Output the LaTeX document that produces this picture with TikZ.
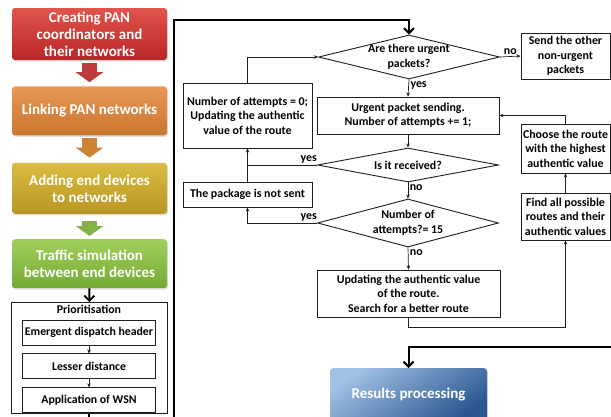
\documentclass[tikz,border=0pt]{standalone}
\usepackage{fontspec}
\setmainfont{Carlito}
\usetikzlibrary{shapes.geometric, arrows.meta, positioning, shadows}
\definecolor{redtop}{RGB}{226, 84, 76}
\definecolor{redbot}{RGB}{184, 38, 38}
\definecolor{orangetop}{RGB}{232, 152, 84}
\definecolor{orangebot}{RGB}{200, 118, 48}
\definecolor{goldtop}{RGB}{218, 188, 66}
\definecolor{goldbot}{RGB}{184, 150, 34}
\definecolor{greentop}{RGB}{160, 206, 92}
\definecolor{greenbot}{RGB}{118, 170, 52}
\definecolor{bluetop}{RGB}{160, 192, 228}
\definecolor{bluebot}{RGB}{44, 88, 146}
\definecolor{linegray}{RGB}{30, 30, 30}

\begin{document}
\begin{tikzpicture}[
    x=1pt, y=-1pt, >={Stealth[length=4pt, width=3.5pt]},
    stage/.style={rectangle, rounded corners=3pt, minimum width=155pt, inner sep=1pt, align=center, text=white, font=\fontsize{15}{17}\selectfont\bfseries, drop shadow={opacity=0.25, shadow xshift=1pt, shadow yshift=-1.5pt}},
    blockarrow/.style={line width=15pt, -{Triangle[length=10pt, width=27pt]}},
    flowbox/.style={rectangle, draw=linegray, line width=0.9pt, fill=white, inner sep=1pt, align=center, font=\fontsize{11.9}{14.5}\selectfont\bfseries},
    decision/.style={diamond, draw=linegray, line width=0.9pt, fill=white, inner sep=0pt, minimum width=181pt},
    subbox/.style={rectangle, draw=linegray, line width=0.9pt, inner sep=1pt, minimum width=133pt, minimum height=25pt, font=\fontsize{11.8}{13}\selectfont\bfseries},
    lbl/.style={font=\fontsize{11.9}{14.5}\selectfont\bfseries, inner sep=1.5pt, align=center},
    line/.style={draw=linegray, ->, line width=0.7pt},
    thickline/.style={draw=black, line width=2pt, -{Straight Barb[length=5pt, width=10pt, line width=2pt]}}
  ]
    \useasboundingbox (0,0) rectangle (611,416);

    % left column: stages of the simulation
    \node (create) [stage, top color=redtop, bottom color=redbot, minimum height=52pt] at (89.5,34) {Creating PAN\\coordinators and\\their networks};
    \node (link) [stage, top color=orangetop, bottom color=orangebot, minimum height=49pt, below=26pt of create] {Linking PAN networks};
    \node (adddev) [stage, top color=goldtop, bottom color=goldbot, minimum height=51pt, below=27pt of link] {Adding end devices\\to networks};
    \node (traffic) [stage, top color=greentop, bottom color=greenbot, minimum height=49pt, below=25pt of adddev] {Traffic simulation\\between end devices};

    \draw[blockarrow, draw=redbot!90, fill=redbot!90, shorten <=3pt, shorten >=4pt] (create) -- (link);
    \draw[blockarrow, draw=orangebot!80!goldtop, fill=orangebot!80!goldtop, shorten <=2pt, shorten >=5pt] (link) -- (adddev);
    \draw[blockarrow, draw=greenbot!90, fill=greenbot!90, shorten <=7pt, shorten >=3pt] (adddev) -- (traffic);

    % prioritisation block
    \node (prio) [rectangle, draw=linegray, line width=0.9pt, minimum width=156pt, minimum height=111pt, anchor=north,
      label={[lbl, anchor=north, yshift=-1pt]north:Prioritisation}] at (89,302) {};
    \node (header) [subbox] at (89,332.5) {Emergent dispatch header};
    \node (dist) [subbox, below=8pt of header] {Lesser distance};
    \node (wsn) [subbox, below=8pt of dist] {Application of WSN};
    \draw[line, line width=0.5pt] (header) -- (dist);
    \draw[line, line width=0.5pt] (dist) -- (wsn);

    \draw[thickline] (traffic) -- (prio);
    \coordinate (prioout) at (89,417);
    \draw[black, line width=2pt] (prio.south) -- (prioout);

    % routing flowchart
    \node (q1) [decision, minimum height=44pt, label={[lbl]center:Are there urgent\\packets?}] at (409,57) {};
    \node (nonurg) [flowbox, minimum width=89pt, minimum height=46pt] at (565.5,56) {Send the other\\non-urgent\\packets};
    \node (urgent) [flowbox, minimum width=182pt, minimum height=37pt] at (408,115.5) {Urgent packet sending.\\Number of attempts += 1;};
    \node (q2) [decision, minimum height=34pt, label={[lbl]center:Is it received?}] at (408,165) {};
    \node (q3) [decision, minimum height=48pt, label={[lbl]center:Number of\\attempts?= 15}] at (408,223) {};
    \node (update) [flowbox, minimum width=183pt, minimum height=47pt] at (408.5,293.5) {Updating the authentic value\\of the route.\\Search for a better route};
    \node (zero) [flowbox, minimum width=129pt, minimum height=65pt] at (247.5,115.5) {Number of attempts = 0;\\Updating the authentic\\value of the route};
    \node (notsent) [flowbox, minimum width=129pt, minimum height=25pt] at (247.5,194.5) {The package is not sent};
    \node (choose) [flowbox, minimum width=89pt, minimum height=49pt] at (565.5,148.5) {Choose the route\\with the highest\\authentic value};
    \node (find) [flowbox, minimum width=89pt, minimum height=47pt] at (565.5,216.5) {Find all possible\\routes and their\\authentic values};
    \node (results) [rectangle, rounded corners=3pt, minimum width=157pt, minimum height=52pt, anchor=north,
      top color=bluetop, bottom color=bluebot, shading angle=35, text=white,
      font=\fontsize{15}{17}\selectfont\bfseries, drop shadow={opacity=0.25, shadow xshift=1pt, shadow yshift=-1.5pt}] at (408.5,368) {Results processing};

    \draw[line] (q1.east) -- node[lbl, above] {no} (nonurg.west);
    \draw[line] (q1.south) -- node[lbl, right, pos=0.35] {yes} (urgent.north);
    \draw[line] (urgent.south) -- (q2.north);
    \draw[line] (q2.south) -- node[lbl, right, pos=0.35] {no} (q3.north);
    \draw[line] (q3.south) -- node[lbl, right, pos=0.22] {no} (update.north);
    \draw[draw=linegray, line width=0.7pt] (q2.west) -- node[lbl, above, pos=0.12] {yes} (q2.west -| zero.south);
    \draw[line] (notsent.north) -- (zero.south);
    \draw[line] (q3.west) -| node[lbl, above, pos=0.06] {yes} (notsent.south);
    \draw[line] (zero.north) |- (q1.west);
    \draw[line] (update.south) -- ++(0,10) -| (find.south);
    \draw[line] (find.north) -- (choose.south);
    \draw[line] (choose.north) |- (urgent.east);

    % thick loop lines
    \coordinate (loopin) at (174,417);
    \coordinate (looptop) at (409,20);
    \draw[thickline] (loopin) |- (looptop) -- (q1.north);
    \coordinate (resin) at (612,347);
    \draw[thickline] (resin) -| (results.north);
  \end{tikzpicture}
\end{document}
